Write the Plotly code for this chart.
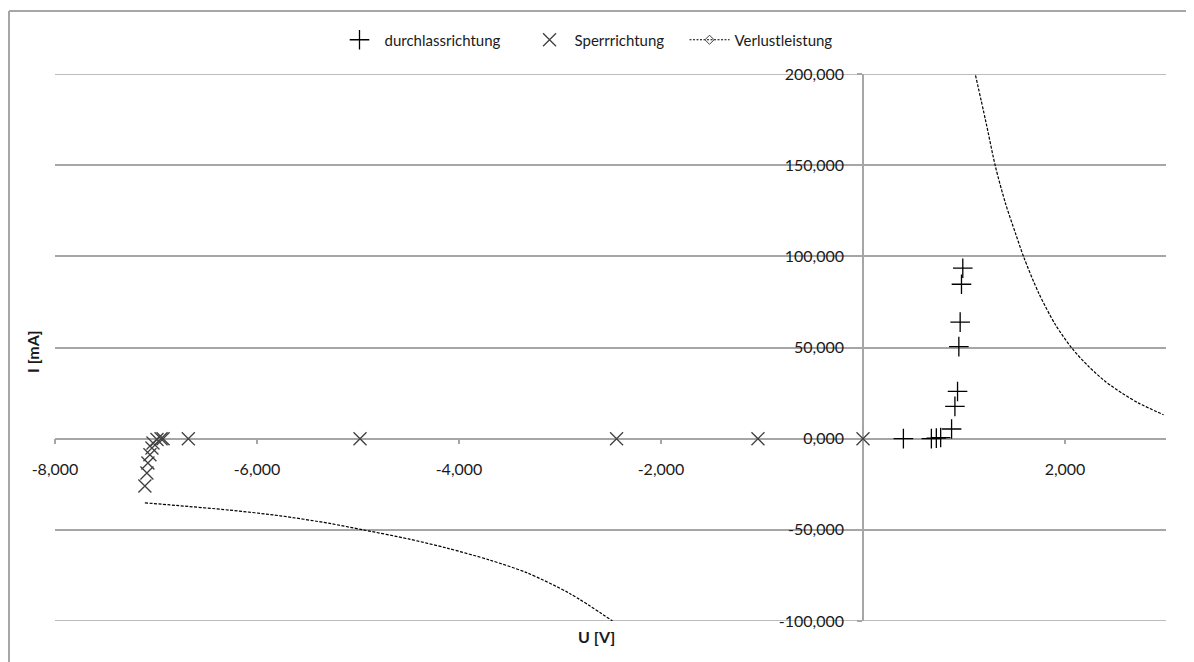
import plotly.graph_objects as go

# Durchlassrichtung (forward direction) U [V], I [mA]
u_durchlass = [0.40, 0.677, 0.726, 0.769, 0.877, 0.91, 0.936, 0.949, 0.962, 0.975, 0.988]
i_durchlass = [0.0, 0.0, 0.3, 0.6, 5.3, 17.7, 25.9, 50.5, 63.9, 84.7, 93.5]

# Sperrrichtung (reverse direction)
u_sperr = [0.0, -1.04, -2.44, -4.98, -6.68, -6.93, -6.95, -6.99, -7.03, -7.04, -7.06, -7.08, -7.09, -7.11]
i_sperr = [0.0, 0.0, 0.0, 0.0, 0.0, 0.0, 0.0, -0.5, -2.4, -5.1, -8.8, -13.3, -18.8, -26.0]

# Verlustleistung (power loss curve), negative branch
u_verlust_neg = [-7.11, -6.8, -6.27, -5.77, -5.28, -4.95, -4.5, -4.12, -3.7, -3.33, -2.9, -2.48]
i_verlust_neg = [-35.2, -36.6, -39.2, -42.3, -46.5, -50.0, -55.0, -60.0, -66.5, -73.5, -85.0, -100.0]

# Verlustleistung, positive branch
u_verlust_pos = [1.114, 1.213, 1.312, 1.411, 1.510, 1.592, 1.740, 1.905, 2.070, 2.234, 2.399, 2.564, 2.729, 2.976]
i_verlust_pos = [199.3, 174.7, 149.1, 129.0, 112.6, 99.5, 79.8, 62.5, 49.5, 39.6, 31.4, 25.0, 19.5, 13.1]

x_tickvals = [-8, -6, -4, -2, 0, 2]
x_ticktext = ["-8,000", "-6,000", "-4,000", "-2,000", "", "2,000"]
y_tickvals = [-100, -50, 0, 50, 100, 150, 200]
y_ticktext = ["-100,000", "-50,000", "0,000", "50,000", "100,000", "150,000", "200,000"]

FONT = "Lato"
FS = 15
FS_TICK = 16
TXT = "#1a1a1a"
GRID = "#a6a6a6"

# figure sized to fit in the window next to the 8px page body margin
FIG_W, FIG_H = 1186, 654
L, T, W, H = 47, 66, 1111, 547

fig = go.Figure()

fig.add_trace(go.Scatter(
    x=u_durchlass, y=i_durchlass, mode="markers",
    name="durchlassrichtung" + "\u00a0" * 5,
    marker=dict(symbol="cross-thin-open", size=14, color="black",
                line=dict(color="black", width=1.3)),
))
fig.add_trace(go.Scatter(
    x=u_sperr, y=i_sperr, mode="markers",
    name="Sperrrichtung" + "\u00a0" * 4,
    marker=dict(symbol="x-thin-open", size=13, color="#404040",
                line=dict(color="#404040", width=1.3)),
))
line_style = dict(color="black", width=1.2, dash="3px,1.5px", shape="spline", smoothing=0.8)
fig.add_trace(go.Scatter(
    x=u_verlust_neg, y=i_verlust_neg, mode="lines", showlegend=False,
    line=line_style, name="Verlustleistung",
))
fig.add_trace(go.Scatter(
    x=u_verlust_pos, y=i_verlust_pos, mode="lines", showlegend=False,
    line=line_style, name="Verlustleistung",
))
# legend entry for Verlustleistung
fig.add_trace(go.Scatter(
    x=[None], y=[None], mode="lines+markers", name="Verlustleistung",
    line=dict(color="black", width=1, dash="2px,1.5px"),
    marker=dict(symbol="diamond-open", size=7, color="#404040",
                line=dict(color="#404040", width=1)),
))

fig.update_layout(
    width=FIG_W, height=FIG_H,
    margin=dict(l=L, r=FIG_W - L - W, t=T, b=FIG_H - T - H),
    paper_bgcolor="white", plot_bgcolor="white",
    font=dict(family=FONT, size=FS, color=TXT),
    showlegend=True,
    legend=dict(orientation="h", x=(586 - 8 - L) / W, xanchor="center",
                y=(T + H - 32) / H, yanchor="middle",
                font=dict(family=FONT, size=FS, color=TXT), itemwidth=40,
                bgcolor="rgba(0,0,0,0)"),
    xaxis=dict(
        range=[-8, 3], domain=[0, 1], anchor="free", position=1 / 3,
        showgrid=False, zeroline=False, showline=True, linecolor=GRID, linewidth=1.5,
        ticks="outside", ticklen=5, tickcolor=GRID, tickwidth=1.5,
        tickvals=x_tickvals, ticktext=x_ticktext, layer="below traces",
        ticklabelstandoff=11,
        tickfont=dict(family=FONT, size=FS_TICK, color=TXT),
    ),
    yaxis=dict(
        range=[-100, 200], domain=[0, 1], anchor="free", position=8 / 11,
        showgrid=True, gridcolor=GRID, gridwidth=1.5, zeroline=False,
        showline=True, linecolor=GRID, linewidth=1.5,
        ticks="outside", ticklen=5, tickcolor=GRID, tickwidth=1.5,
        tickvals=y_tickvals, ticktext=y_ticktext, layer="below traces",
        ticklabelstandoff=10,
        tickfont=dict(family=FONT, size=FS_TICK, color=TXT),
    ),
    annotations=[
        dict(text="<b>U [V]</b>", xref="paper", yref="paper",
             x=(596 - 8 - L) / W, y=(T + H - (636 - 8)) / H,
             xanchor="center", yanchor="middle", showarrow=False,
             font=dict(family=FONT, size=16, color=TXT)),
        dict(text="<b>I [mA]</b>", xref="paper", yref="paper",
             x=(32 - 8 - L) / W, y=(T + H - (352 - 8)) / H,
             xanchor="center", yanchor="middle", showarrow=False, textangle=-90,
             font=dict(family=FONT, size=16, color=TXT)),
    ],
    shapes=[
        # chart-area border (only top and left edges are inside the window)
        dict(type="line", xref="paper", yref="paper",
             x0=(1 - L) / W, x1=(FIG_W + 20 - L) / W, y0=(T + H - 3) / H, y1=(T + H - 3) / H,
             line=dict(color="#a6a6a6", width=2), layer="below"),
        dict(type="line", xref="paper", yref="paper",
             x0=(1 - L) / W, x1=(1 - L) / W, y0=(T + H - 3) / H, y1=-0.2,
             line=dict(color="#a6a6a6", width=2), layer="below"),
        # gridlines at the range ends (plotly hides them at the plot edges)
        dict(type="line", xref="paper", yref="y", x0=0, x1=1, y0=200, y1=200,
             line=dict(color=GRID, width=1.5), layer="below"),
        dict(type="line", xref="paper", yref="y", x0=0, x1=1, y0=-100, y1=-100,
             line=dict(color=GRID, width=1.5), layer="below"),
    ],
)

fig.write_html("out.html")
